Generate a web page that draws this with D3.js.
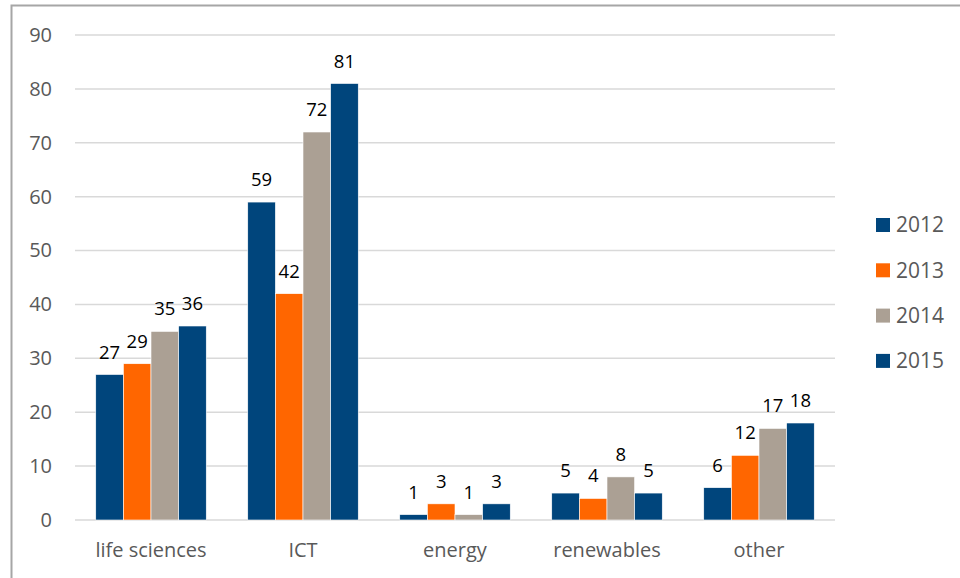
<!DOCTYPE html>
<html>
<head>
<meta charset="utf-8">
<script src="https://cdn.jsdelivr.net/npm/d3@7"></script>
<style>
  html, body { margin: 0; padding: 0; background: #fff; }
  svg { display: block; font-family: "Open Sans", "Liberation Sans", sans-serif; }
</style>
</head>
<body>
<svg id="chart" width="960" height="578"></svg>
<script>
// Sectors and yearly counts
const categories = ["life sciences", "ICT", "energy", "renewables", "other"];
const years = ["2012", "2013", "2014", "2015"];
const values2012 = [27, 59, 1, 5, 6];
const values2013 = [29, 42, 3, 4, 12];
const values2014 = [35, 72, 1, 8, 17];
const values2015 = [36, 81, 3, 5, 18];
const yTicks = [0, 10, 20, 30, 40, 50, 60, 70, 80, 90];
const colors = ["#00457C", "#FF6600", "#ABA094", "#00457C"];

(function () {
  const seriesValues = [values2012, values2013, values2014, values2015];
  const rows = categories.map((c, i) => ({
    category: c,
    vals: years.map((y, j) => ({ year: y, value: seriesValues[j][i], idx: j }))
  }));

  const svg = d3.select("#chart");
  const plotLeft = 75, plotRight = 835, plotTop = 35, plotBottom = 520;

  // Outer frame
  svg.append("rect")
    .attr("x", 11.5).attr("y", 5.5)
    .attr("width", 1000).attr("height", 1000)
    .attr("fill", "none").attr("stroke", "#A6A6A6").attr("stroke-width", 2);

  const x0 = d3.scaleBand().domain(categories).range([plotLeft, plotRight])
    .paddingInner(0.273).paddingOuter(0.1365);
  const x1 = d3.scaleBand().domain(years).range([0, x0.bandwidth()]);
  const y = d3.scaleLinear().domain([0, 90]).range([plotBottom, plotTop]);

  // Gridlines
  svg.append("g").selectAll("line").data(yTicks).join("line")
    .attr("x1", plotLeft).attr("x2", plotRight)
    .attr("y1", d => y(d)).attr("y2", d => y(d))
    .attr("stroke", "#D9D9D9").attr("stroke-width", 1.5);

  // Y axis labels
  const yAxis = svg.append("g").attr("transform", `translate(${plotLeft},0)`)
    .call(d3.axisLeft(y).tickValues(yTicks).tickSize(0).tickPadding(23));
  yAxis.select(".domain").remove();
  yAxis.selectAll("text").attr("font-size", 20).attr("fill", "#595959")
    .attr("font-family", "'Open Sans', sans-serif");

  // X axis labels
  const xAxis = svg.append("g").attr("transform", `translate(0,${plotBottom})`)
    .call(d3.axisBottom(x0).tickSize(0).tickPadding(23));
  xAxis.select(".domain").remove();
  xAxis.selectAll("text").attr("font-size", 20).attr("fill", "#595959")
    .attr("font-family", "'Open Sans', sans-serif");

  // Bars
  const groups = svg.append("g").selectAll("g").data(rows).join("g")
    .attr("transform", d => `translate(${x0(d.category)},0)`);

  groups.selectAll("rect").data(d => d.vals).join("rect")
    .attr("x", d => x1(d.year))
    .attr("y", d => y(d.value))
    .attr("width", x1.bandwidth())
    .attr("height", d => y(0) - y(d.value))
    .attr("fill", d => colors[d.idx])
    .attr("stroke", "#fff").attr("stroke-width", 0.6);

  // Data labels
  groups.selectAll("text").data(d => d.vals).join("text")
    .attr("x", d => x1(d.year) + x1.bandwidth() / 2)
    .attr("y", d => y(d.value) - 16)
    .attr("text-anchor", "middle")
    .attr("font-size", 18.5)
    .attr("fill", "#000")
    .text(d => d.value);

  // Legend
  const legend = svg.append("g").selectAll("g").data(years).join("g")
    .attr("transform", (d, i) => `translate(876,${225 + i * 45.3})`);
  legend.append("rect")
    .attr("x", 0).attr("y", -7).attr("width", 14).attr("height", 14)
    .attr("fill", (d, i) => colors[i]);
  legend.append("text")
    .attr("x", 20).attr("y", 0).attr("dy", "0.35em")
    .attr("font-size", 21).attr("fill", "#595959")
    .text(d => d);
})();
</script>
</body>
</html>
